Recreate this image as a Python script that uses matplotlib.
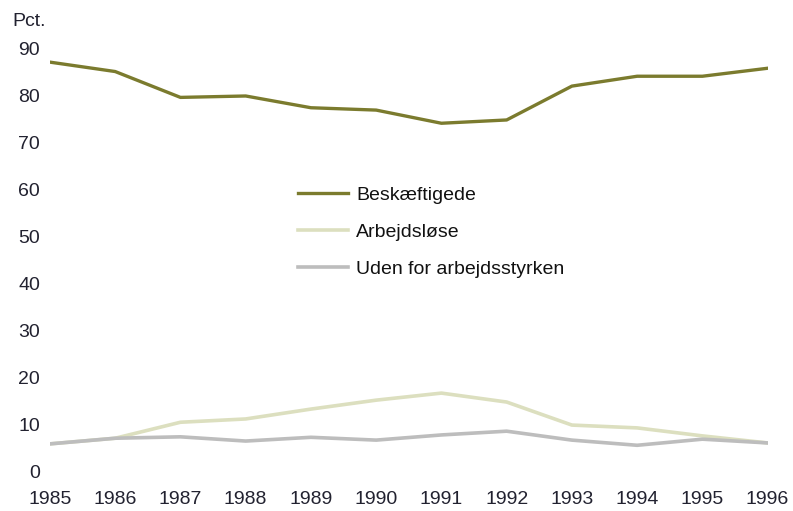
import matplotlib.pyplot as plt

years = [1985, 1986, 1987, 1988, 1989, 1990, 1991, 1992, 1993, 1994, 1995, 1996]
beskaeftigede = [87.0, 85.0, 79.5, 79.8, 77.3, 76.8, 74.0, 74.7, 81.9, 84.0, 84.0, 85.7]
arbejdsloese = [5.8, 7.0, 10.4, 11.1, 13.2, 15.1, 16.6, 14.7, 9.8, 9.2, 7.5, 6.0]
uden_for = [5.8, 7.0, 7.3, 6.4, 7.2, 6.6, 7.7, 8.5, 6.6, 5.5, 6.8, 6.0]
yticks = [0, 10, 20, 30, 40, 50, 60, 70, 80, 90]

plt.rcParams['font.family'] = ['Liberation Sans', 'DejaVu Sans']

fig = plt.figure(figsize=(7.93, 5.11), dpi=100)
ax = fig.add_axes([0.063, 0.078, 0.905, 0.828])

ax.plot(years, beskaeftigede, color='#7b7b2e', lw=2.4, label='Beskæftigede', solid_joinstyle='round')
ax.plot(years, arbejdsloese, color='#dcdfbf', lw=2.6, label='Arbejdsløse', solid_joinstyle='round')
ax.plot(years, uden_for, color='#bdbdbd', lw=2.6, label='Uden for arbejdsstyrken', solid_joinstyle='round')

ax.set_xlim(1985, 1996)
ax.set_ylim(0, 90)
ax.set_xticks(years)
ax.set_yticks(yticks)
ax.tick_params(length=0, labelsize=14, colors='#222230')
ax.tick_params(axis='x', pad=14)
ax.tick_params(axis='y', pad=7)
for s in ax.spines.values():
    s.set_visible(False)

fig.text(0.015, 0.958, 'Pct.', fontsize=14, color='#222230', va='center')

leg = fig.legend(loc='upper left', bbox_to_anchor=(0.363, 0.655), frameon=False,
                 fontsize=14, handlelength=2.6, handletextpad=0.4, labelspacing=1.0,
                 borderpad=0)
for t in leg.get_texts():
    t.set_color('#111111')

fig.savefig('out.png', dpi=100)
